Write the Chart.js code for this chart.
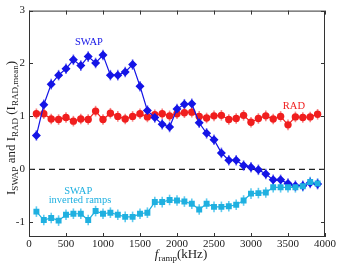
<!DOCTYPE html>
<html>
<head>
<meta charset="utf-8">
<script src="https://cdn.jsdelivr.net/npm/chart.js@4.4.0/dist/chart.umd.min.js"></script>
<style>
  html, body { margin: 0; padding: 0; background: #fff; }
  #wrap { width: 339px; height: 267px; }
</style>
</head>
<body>
<div id="wrap"><canvas id="myChart" width="339" height="267"></canvas></div>
<script>
const freqs = [100, 200, 300, 400, 500, 600, 700, 800, 900, 1000, 1100, 1200, 1300, 1400, 1500, 1600, 1700, 1800, 1900, 2000,
    2100, 2200, 2300, 2400, 2500, 2600, 2700, 2800, 2900, 3000, 3100, 3200, 3300, 3400, 3500, 3600, 3700, 3800, 3900];

const swap = [0.64, 1.22, 1.61, 1.78, 1.90, 2.07, 1.96, 2.13, 2.01, 2.16, 1.78, 1.78, 1.84, 1.98, 1.57, 1.11, 0.98, 0.85, 0.80, 1.14,
    1.23, 1.24, 0.88, 0.68, 0.56, 0.31, 0.17, 0.17, 0.07, 0.04, -0.01, -0.09, -0.20, -0.20, -0.27, -0.31, -0.31, -0.26, -0.28];

const rad = [1.05, 1.05, 0.95, 0.94, 0.98, 0.91, 0.95, 0.94, 1.10, 0.94, 1.06, 1.00, 0.95, 1.00, 1.05, 0.99, 1.03, 1.05, 1.01, 1.05,
    1.07, 1.08, 1.00, 0.97, 1.01, 1.02, 0.94, 0.96, 1.02, 0.89, 0.96, 1.01, 0.95, 1.00, 0.84, 0.99, 0.98, 0.99, 1.04];

const swapInverted = [-0.80, -0.96, -0.92, -0.97, -0.86, -0.84, -0.84, -0.96, -0.79, -0.84, -0.82, -0.86, -0.90, -0.90, -0.84, -0.82, -0.62, -0.62, -0.58, -0.59,
    -0.61, -0.65, -0.76, -0.65, -0.71, -0.71, -0.70, -0.67, -0.59, -0.46, -0.45, -0.44, -0.34, -0.34, -0.34, -0.34, -0.32, -0.24, -0.27];

const errSize = 0.1;

const xTicks = [0, 500, 1000, 1500, 2000, 2500, 3000, 3500, 4000];
const yTicks = [-1, 0, 1, 2, 3];

const serif = "'Liberation Serif', 'DejaVu Serif', serif";

function pts(ys) {
    return ys.map((y, i) => {
        return { x: freqs[i], y: y };
    });
}

// error bars, zero line, box with inward ticks, labels
const extras = {
    id: "extras",
    beforeDatasetsDraw(chart) {
        const { ctx, chartArea: a, scales: { x, y } } = chart;
        ctx.save();
        ctx.strokeStyle = "#222";
        ctx.lineWidth = 1.2;
        ctx.setLineDash([6, 4]);
        ctx.beginPath();
        ctx.moveTo(a.left, y.getPixelForValue(0));
        ctx.lineTo(a.right, y.getPixelForValue(0));
        ctx.stroke();
        ctx.setLineDash([]);
        ctx.lineWidth = 1.6;
        chart.data.datasets.forEach((ds) => {
            ctx.strokeStyle = ds.errColor;
            ds.data.forEach((p) => {
                const px = x.getPixelForValue(p.x);
                ctx.beginPath();
                ctx.moveTo(px, y.getPixelForValue(p.y - errSize));
                ctx.lineTo(px, y.getPixelForValue(p.y + errSize));
                ctx.stroke();
            });
        });
        ctx.restore();
    },
    afterDraw(chart) {
        const { ctx, chartArea: a, scales: { x, y } } = chart;
        ctx.save();
        ctx.strokeStyle = "#333";
        ctx.lineWidth = 1;
        ctx.strokeRect(a.left + 0.5, a.top + 0.5, a.right - a.left - 1, a.bottom - a.top - 1);
        ctx.beginPath();
        xTicks.forEach((v) => {
            const px = Math.round(x.getPixelForValue(v)) + 0.5;
            ctx.moveTo(px, a.bottom); ctx.lineTo(px, a.bottom - 4);
            ctx.moveTo(px, a.top); ctx.lineTo(px, a.top + 4);
        });
        yTicks.forEach((v) => {
            const py = Math.round(y.getPixelForValue(v)) + 0.5;
            ctx.moveTo(a.left, py); ctx.lineTo(a.left + 4, py);
            ctx.moveTo(a.right, py); ctx.lineTo(a.right - 4, py);
        });
        ctx.stroke();

        // annotations
        ctx.textAlign = "center";
        ctx.textBaseline = "middle";
        ctx.font = "10.5px " + serif;
        ctx.fillStyle = "#1414e6";
        ctx.fillText("SWAP", x.getPixelForValue(810), y.getPixelForValue(2.40));
        ctx.fillStyle = "#f01e1e";
        ctx.fillText("RAD", x.getPixelForValue(3580), y.getPixelForValue(1.20));
        ctx.fillStyle = "#1fb0e0";
        ctx.fillText("SWAP", x.getPixelForValue(666), y.getPixelForValue(-0.41));
        ctx.fillText("inverted ramps", x.getPixelForValue(689), y.getPixelForValue(-0.59));

        // axis titles with subscripts
        ctx.fillStyle = "#222";
        ctx.textAlign = "left";
        ctx.textBaseline = "alphabetic";
        const main = "13px " + serif;
        const sub = "9px " + serif;
        const yParts = [["I", main, 0], ["SWAP", sub, 3], [" and I", main, 0], ["RAD", sub, 3],
            [" (I", main, 0], ["RAD,mean", sub, 3], [")", main, 0]];
        let w = 0;
        yParts.forEach((p) => { ctx.font = p[1]; w += ctx.measureText(p[0]).width; });
        ctx.translate(15, 128);
        ctx.rotate(-Math.PI / 2);
        let cx = -w / 2;
        yParts.forEach((p) => {
            ctx.font = p[1];
            ctx.fillText(p[0], cx, p[2]);
            cx += ctx.measureText(p[0]).width;
        });
        ctx.setTransform(1, 0, 0, 1, 0, 0);

        const xParts = [["f", "italic " + main, 0], ["ramp", sub, 3], ["(kHz)", main, 0]];
        w = 0;
        xParts.forEach((p) => { ctx.font = p[1]; w += ctx.measureText(p[0]).width; });
        cx = (a.left + a.right) / 2 + 4 - w / 2;
        xParts.forEach((p) => {
            ctx.font = p[1];
            ctx.fillText(p[0], cx, 258 + p[2]);
            cx += ctx.measureText(p[0]).width;
        });
        ctx.restore();
    }
};

function makeChart() {
    const ctx = document.getElementById("myChart").getContext("2d");
    const myChart = new Chart(ctx, {
        type: "line",
        data: {
            datasets: [
                {
                    label: "SWAP inverted ramps",
                    data: pts(swapInverted),
                    borderColor: "#1fb0e0",
                    backgroundColor: "#1fb0e0",
                    errColor: "rgba(40,185,235,0.75)",
                    pointStyle: "rect",
                    pointRadius: 4.2,
                    order: 1,
                },
                {
                    label: "SWAP",
                    data: pts(swap),
                    borderColor: "#1414e6",
                    backgroundColor: "#1414e6",
                    errColor: "rgba(70,70,245,0.75)",
                    pointStyle: "rectRot",
                    pointRadius: 4.5,
                    order: 2,
                },
                {
                    label: "RAD",
                    data: pts(rad),
                    borderColor: "#f01e1e",
                    backgroundColor: "#f01e1e",
                    errColor: "rgba(245,90,90,0.75)",
                    pointStyle: "circle",
                    pointRadius: 3.7,
                    order: 3,
                },
            ],
        },
        options: {
            responsive: false,
            animation: false,
            events: [],
            layout: { padding: { top: 3, right: 14, left: 0, bottom: 0 } },
            elements: { line: { borderWidth: 1.2, tension: 0 }, point: { borderWidth: 0 } },
            plugins: { legend: { display: false }, tooltip: { enabled: false } },
            scales: {
                x: {
                    type: "linear",
                    min: 0,
                    max: 4000,
                    afterBuildTicks: (s) => { s.ticks = xTicks.map((v) => ({ value: v })); },
                    afterFit: (s) => { s.height = 30; },
                    grid: { display: false, drawTicks: false },
                    border: { display: false },
                    ticks: {
                        font: { family: serif, size: 11 }, color: "#222", padding: 1, maxRotation: 0, autoSkip: false,
                        callback: (v) => String(v),
                    },
                },
                y: {
                    min: -1.28,
                    max: 3,
                    afterBuildTicks: (s) => { s.ticks = yTicks.map((v) => ({ value: v })); },
                    afterFit: (s) => { s.width = 29; },
                    grid: { display: false, drawTicks: false },
                    border: { display: false },
                    ticks: {
                        font: { family: serif, size: 11 }, color: "#222", padding: 4, autoSkip: false,
                        callback: (v) => String(v),
                    },
                },
            },
        },
        plugins: [extras],
    });
}

makeChart();
</script>
</body>
</html>
